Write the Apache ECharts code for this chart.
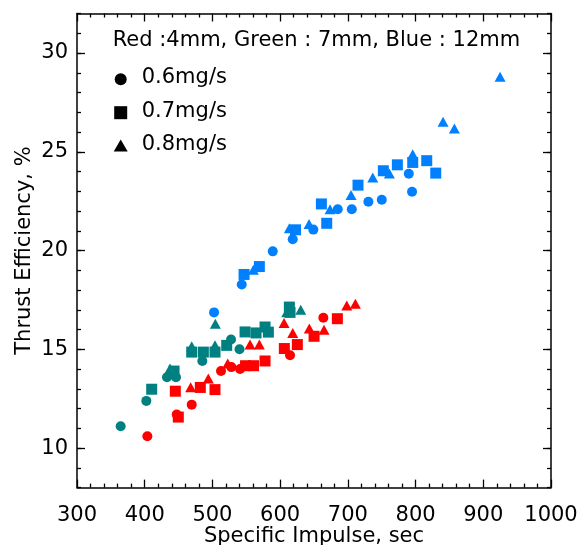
<!DOCTYPE html>
<html>
<head>
<meta charset="utf-8">
<script src="https://cdn.jsdelivr.net/npm/echarts@6/dist/echarts.min.js"></script>
<style>
html,body{margin:0;padding:0;background:#fff;}
#chart{width:580px;height:545px;}
</style>
</head>
<body>
<div id="chart"></div>
<script>
// ---- Data (Specific Impulse [sec], Thrust Efficiency [%]) ----
const red4mm_06 = [[403.9,10.6],[447.3,11.7],[469.4,12.2],[512.7,13.9],[527.9,14.1],[540.8,14.0],[614.6,14.7],[663.8,16.6]];
const red4mm_07 = [[445.2,12.88],[449.6,11.57],[482.1,13.07],[503.8,12.96],[548.9,14.17],[560.7,14.17],[577.7,14.41],[606.2,15.04],[625.4,15.24],[650.1,15.66],[684.5,16.55]];
const red4mm_08 = [[467.9,13.08],[493.9,13.52],[522.6,14.28],[555.5,15.25],[569.3,15.25],[605.8,16.33],[618.6,15.82],[643.1,16.05],[664.8,15.99],[698.4,17.22],[711.1,17.31]];

const green7mm_06 = [[364.5,11.11],[402.4,12.39],[432.9,13.59],[446.2,13.59],[485.1,14.41],[527.5,15.5],[540.0,15.0]];
const green7mm_07 = [[410.3,12.98],[443.3,13.9],[469.4,14.86],[486.6,14.86],[503.8,14.86],[521.1,15.2],[548.2,15.88],[564.4,15.83],[577.7,16.13],[582.6,15.87],[613.6,17.14],[614.6,16.87]];
const green7mm_08 = [[437.4,14.03],[469.4,15.15],[503.8,15.2],[504.3,16.3],[609.7,16.88],[630.4,17.0]];

const blue12mm_06 = [[502.4,16.87],[543.3,18.28],[589.1,19.96],[618.6,20.57],[649.0,21.06],[685.1,22.09],[705.8,22.09],[730.3,22.47],[750.1,22.57],[790.0,23.89],[794.8,22.98]];
const blue12mm_07 = [[546.7,18.79],[569.3,19.19],[622.7,21.05],[660.9,22.36],[668.8,21.38],[715.0,23.31],[752.4,24.04],[773.1,24.34],[795.8,24.46],[816.5,24.55],[829.8,23.92]];
const blue12mm_08 = [[560.4,19.03],[613.6,21.13],[642.7,21.35],[673.7,22.09],[704.7,22.81],[736.8,23.7],[761.3,23.9],[795.8,24.88],[840.6,26.52],[857.3,26.18],[924.8,28.8]];

const xTicks = [300,400,500,600,700,800,900,1000];
const yMajorTicks = [10,15,20,25,30];
const yMinorTicks = [8,9,10,11,12,13,14,15,16,17,18,19,20,21,22,23,24,25,26,27,28,29,30,31,32];

const legendTitle = 'Red :4mm, Green : 7mm, Blue : 12mm';
const flowLabels = ['0.6mg/s','0.7mg/s','0.8mg/s'];

// ---- Styles ----
const FONT = 'DejaVu Sans';
const FS = 21;
const RED = '#ff0000', GREEN = '#008080', BLUE = '#0080ff';

function mk(name, data, color, shape) {
  let size = 10;
  if (shape === 'rect') size = 11;
  if (shape === 'triangle') size = [11, 10];
  return {
    name: name, type: 'scatter', data: data,
    xAxisIndex: 0, yAxisIndex: 0,
    symbol: shape, symbolSize: size,
    itemStyle: {color: color, opacity: 1},
    emphasis: {disabled: true},
    z: 3
  };
}

const series = [
  mk('Green 7mm 0.6mg/s', green7mm_06, GREEN, 'circle'),
  mk('Green 7mm 0.7mg/s', green7mm_07, GREEN, 'rect'),
  mk('Green 7mm 0.8mg/s', green7mm_08, GREEN, 'triangle'),
  mk('Red 4mm 0.6mg/s', red4mm_06, RED, 'circle'),
  mk('Red 4mm 0.7mg/s', red4mm_07, RED, 'rect'),
  mk('Red 4mm 0.8mg/s', red4mm_08, RED, 'triangle'),
  mk('Blue 12mm 0.6mg/s', blue12mm_06, BLUE, 'circle'),
  mk('Blue 12mm 0.7mg/s', blue12mm_07, BLUE, 'rect'),
  mk('Blue 12mm 0.8mg/s', blue12mm_08, BLUE, 'triangle')
];

const lineStyle = {color: '#000', width: 1.5};

function yAxisBase(pos, ticks, len, showLabel, showLine) {
  return {
    type: 'value', position: pos, min: 8, max: 32, interval: 1,
    axisLine: {show: showLine, onZero: false, lineStyle: lineStyle},
    axisTick: {show: true, inside: true, length: len, customValues: ticks, lineStyle: {color: '#000', width: 1.3}},
    axisLabel: {show: showLabel, customValues: yMajorTicks, color: '#000', fontFamily: FONT, fontSize: FS, margin: 9,
      formatter: v => (v % 5 === 0 ? String(v) : '')},
    splitLine: {show: false}
  };
}

const yAxes = [
  Object.assign(yAxisBase('left', yMinorTicks, 4, true, true), {
    name: 'Thrust Efficiency, %', nameLocation: 'middle', nameGap: 42, nameMoveOverlap: false,
    nameTextStyle: {color: '#000', fontFamily: FONT, fontSize: FS}
  }),
  yAxisBase('left', yMajorTicks, 8, false, false),
  yAxisBase('right', yMinorTicks, 4, false, true),
  yAxisBase('right', yMajorTicks, 8, false, false)
];

function xAxisBase(pos, showLabel) {
  return {
    type: 'value', position: pos, min: xTicks[0], max: xTicks[xTicks.length-1], interval: 100,
    axisLine: {show: true, onZero: false, lineStyle: lineStyle},
    axisTick: {show: true, inside: true, length: 8, lineStyle: {color: '#000', width: 1.3}},
    minorTick: {show: true, splitNumber: 5, length: 4, lineStyle: {color: '#000', width: 1.3}},
    axisLabel: {show: showLabel, color: '#000', fontFamily: FONT, fontSize: FS, margin: 17,
      formatter: v => String(v)},
    splitLine: {show: false}, minorSplitLine: {show: false}
  };
}

const xAxes = [
  Object.assign(xAxisBase('bottom', true), {
    name: 'Specific Impulse, sec', nameLocation: 'middle', nameGap: 38, nameMoveOverlap: false,
    nameTextStyle: {color: '#000', fontFamily: FONT, fontSize: FS}
  }),
  xAxisBase('top', false)
];

// legend drawn as graphic (black symbols)
const legendX = 120.7, textX = 141.7;
const rowsY = [79.3, 112.7, 146];
const graphic = [
  {type: 'text', left: 112.7, top: 42 - 12, style: {text: legendTitle, fill: '#000', font: FS + 'px "' + FONT + '"'}},
  {type: 'circle', shape: {cx: legendX, cy: rowsY[0], r: 6}, style: {fill: '#000'}},
  {type: 'rect', shape: {x: legendX - 6.5, y: rowsY[1] - 6.5, width: 13, height: 13}, style: {fill: '#000'}},
  {type: 'polygon', shape: {points: [[legendX, rowsY[2] - 6.5], [legendX + 7, rowsY[2] + 5.5], [legendX - 7, rowsY[2] + 5.5]]}, style: {fill: '#000'}}
];
flowLabels.forEach((t, i) => {
  graphic.push({type: 'text', left: textX, top: rowsY[i] - 12, style: {text: t, fill: '#000', font: FS + 'px "' + FONT + '"'}});
});

const chart = echarts.init(document.getElementById('chart'), null, {renderer: 'canvas'});
chart.setOption({
  animation: false,
  backgroundColor: '#fff',
  grid: {left: 77, right: 29, top: 13.5, bottom: 57.4, containLabel: false, outerBoundsMode: 'none'},
  xAxis: xAxes,
  yAxis: yAxes,
  series: series,
  graphic: graphic
});
</script>
</body>
</html>
